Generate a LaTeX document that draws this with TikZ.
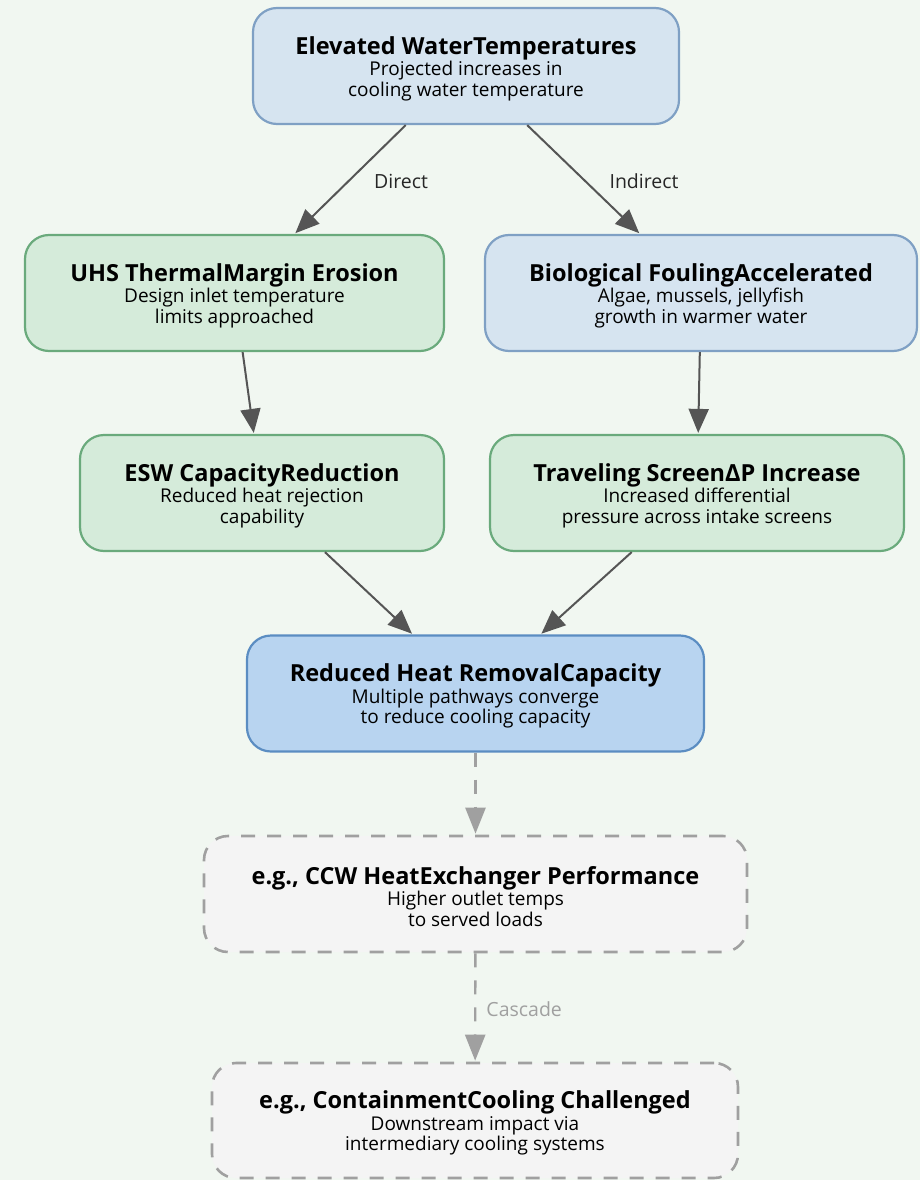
\documentclass[tikz,border=0pt]{standalone}
\usepackage{fontspec}
\setmainfont{Open Sans}
\usetikzlibrary{arrows.meta}
\definecolor{bgc}{HTML}{F1F7F1}
\definecolor{bluefill}{HTML}{D6E4F0}
\definecolor{blueline}{HTML}{7FA0C4}
\definecolor{greenfill}{HTML}{D5EBDA}
\definecolor{greenline}{HTML}{6AAA7C}
\definecolor{corefill}{HTML}{B8D4F0}
\definecolor{coreline}{HTML}{5B8DC2}
\definecolor{grayfill}{HTML}{F4F4F4}
\definecolor{grayline}{HTML}{A0A0A0}
\definecolor{arrowc}{HTML}{555555}
% bold heading line; the strut leaves a little extra room above it
\newcommand{\ttl}[1]{\rule{0pt}{23pt}{\fontsize{23.5}{25}\selectfont\bfseries #1}}
\tikzset{
  box/.style={rounded corners=24pt, line width=2.2pt, align=center, inner sep=0pt,
    minimum height=116pt, text=black, font=\fontsize{19}{20.5}\selectfont},
  bluebox/.style={box, fill=bluefill, draw=blueline},
  greenbox/.style={box, fill=greenfill, draw=greenline},
  corebox/.style={box, fill=corefill, draw=coreline},
  graybox/.style={box, fill=grayfill, draw=grayline, line width=2.6pt, dash pattern=on 14pt off 12pt},
  flow/.style={draw=arrowc, line width=2pt, shorten >=1pt,
    -{Triangle[length=24pt,width=20pt]}},
  cascade/.style={draw=grayline, line width=2.4pt, dash pattern=on 14pt off 13pt, shorten >=1pt,
    -{Triangle[length=26pt,width=20pt]}},
  elabel/.style={font=\fontsize{19.5}{21}\selectfont, inner sep=0pt, anchor=west},
}
\begin{document}
\begin{tikzpicture}[x=1pt,y=-1pt]
\fill[bgc] (0,0) rectangle (920,1180);
\path[use as bounding box] (0,0) rectangle (920,1180);

\node[bluebox, minimum width=426pt] (temp) at (466,66)
  {\ttl{Elevated WaterTemperatures}\\[1pt]Projected increases in\\cooling water temperature};
\node[greenbox, minimum width=419pt] (uhs) at (234.5,293)
  {\ttl{UHS ThermalMargin Erosion}\\[1pt]Design inlet temperature\\limits approached};
\node[bluebox, minimum width=432pt] (bio) at (701,293)
  {\ttl{Biological FoulingAccelerated}\\[1pt]Algae, mussels, jellyfish\\growth in warmer water};
\node[greenbox, minimum width=364pt] (esw) at (262,493)
  {\ttl{ESW CapacityReduction}\\[1pt]Reduced heat rejection\\capability};
\node[greenbox, minimum width=414pt] (screen) at (697,493)
  {\ttl{Traveling Screen∆P Increase}\\[1pt]Increased differential\\pressure across intake screens};
\node[corebox, minimum width=457pt] (heat) at (475.5,693.5)
  {\ttl{Reduced Heat RemovalCapacity}\\[1pt]Multiple pathways converge\\to reduce cooling capacity};
\node[graybox, minimum width=543pt] (ccw) at (475.5,894)
  {\ttl{e.g., CCW HeatExchanger Performance}\\[1pt]Higher outlet temps\\to served loads};
\node[graybox, minimum width=526pt, minimum height=115pt] (cont) at (475,1120.5)
  {\ttl{e.g., ContainmentCooling Challenged}\\[1pt]Downstream impact via\\intermediary cooling systems};

\draw[flow] (temp) -- node[elabel, pos=0.5, xshift=23pt, yshift=-2pt, text=black!85] (ldirect) {Direct} (uhs);
\draw[flow] (temp) -- node[elabel, pos=0.5, xshift=25pt, yshift=-2pt, text=black!85] (lindirect) {Indirect} (bio);
\draw[flow] (uhs) -- (esw);
\draw[flow] (bio) -- (screen);
\draw[flow] (esw) -- (heat);
\draw[flow] (screen) -- (heat);
\draw[cascade] (heat) -- (ccw);
\draw[cascade] (ccw) -- node[elabel, pos=0.5, xshift=10pt, yshift=-2pt, text=grayline] (lcascade) {Cascade} (cont);
\end{tikzpicture}
\end{document}
